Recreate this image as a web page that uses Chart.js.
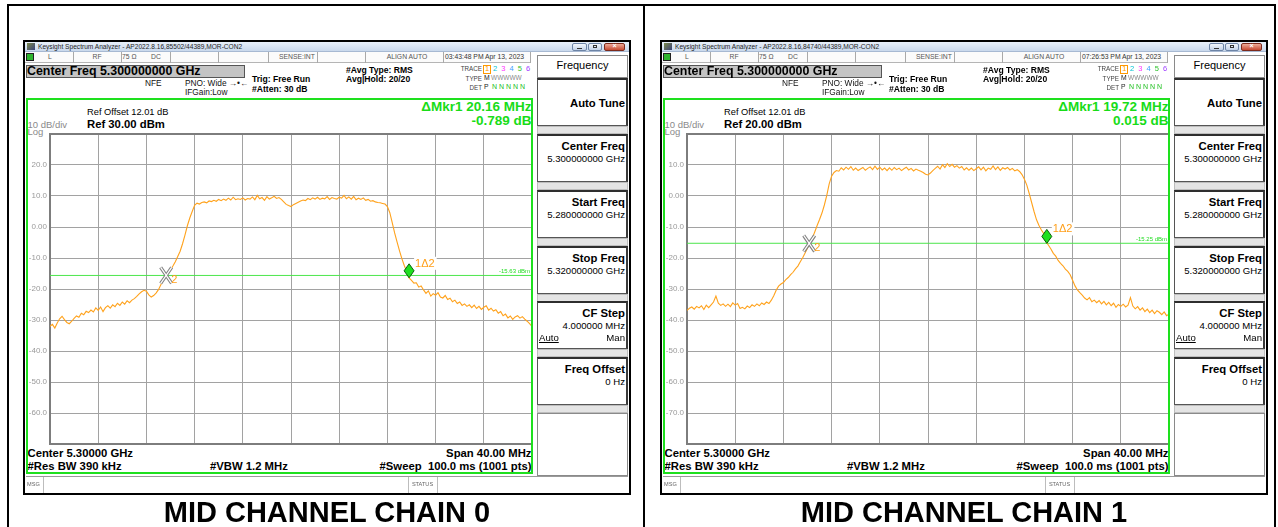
<!DOCTYPE html>
<html>
<head>
<meta charset="utf-8">
<script src="https://cdn.jsdelivr.net/npm/chart.js@4.4.0/dist/chart.umd.min.js"></script>
<style>
  html, body { margin: 0; padding: 0; background: #fff; width: 1278px; height: 527px; overflow: hidden;
    font-family: "Liberation Sans", Arial, sans-serif; }
  #page { position: absolute; left: 0; top: 0; width: 1278px; height: 527px; }
</style>
</head>
<body>
<div id="page"></div>
<script>
// Sweep grid: 5.28 GHz .. 5.32 GHz, shown as offset from 5.30 GHz centre (MHz)
const sweepStartMHz = -20;
const sweepStepMHz = 0.2;

// Trace 1 (RMS average), dBm, chain 0
const chain0Dbm = [
  -32.0,-31.4,-32.6,-31.0,-29.6,-28.8,-29.9,-30.8,-31.2,-30.4,
  -29.5,-28.7,-29.1,-27.8,-28.3,-27.2,-27.6,-26.8,-27.4,-26.1,
  -26.9,-25.8,-27.3,-26.0,-25.4,-26.2,-25.1,-25.7,-24.6,-25.3,
  -24.2,-24.9,-23.8,-24.4,-23.6,-23.1,-22.4,-21.6,-20.9,-20.4,
  -20.7,-21.9,-22.6,-22.1,-21.3,-20.2,-18.6,-17.1,-15.9,-14.8,
  -13.9,-12.6,-11.2,-9.5,-7.8,-5.4,-2.6,0.4,2.9,5.0,
  7.0,7.7,7.4,7.9,8.1,7.8,8.4,8.2,8.6,8.3,
  8.9,8.5,9.0,8.6,9.3,8.7,9.6,8.8,9.1,8.9,
  9.4,8.7,9.2,9.0,9.7,8.8,10.2,9.1,9.5,8.6,
  9.8,9.0,9.4,9.9,9.2,9.5,8.9,8.1,7.3,6.9,
  6.6,7.2,7.6,8.0,8.4,8.7,8.5,9.2,8.8,9.4,
  9.0,9.6,8.9,9.3,9.1,9.8,8.9,9.5,9.2,9.0,
  9.6,9.3,10.2,9.1,9.7,9.0,9.9,8.8,9.3,8.9,
  9.4,8.6,8.9,8.3,8.5,8.1,7.9,7.8,7.6,7.4,
  6.6,4.6,1.4,-1.9,-4.8,-7.6,-10.2,-12.4,-14.3,-16.4,
  -17.2,-18.1,-18.0,-19.4,-19.0,-20.3,-21.4,-20.6,-22.3,-21.5,
  -22.0,-21.2,-22.6,-22.9,-22.1,-23.4,-23.0,-24.1,-23.6,-24.7,
  -24.2,-25.3,-24.8,-25.6,-25.1,-26.0,-25.2,-26.3,-25.6,-26.6,
  -25.9,-25.4,-26.8,-26.2,-27.1,-26.7,-27.8,-27.3,-28.6,-28.1,
  -29.3,-28.7,-29.8,-29.0,-28.6,-29.4,-28.9,-29.7,-30.4,-31.2,
  -32.1
];

// Trace 1 (RMS average), dBm, chain 1
const chain1Dbm = [
  -36.9,-36.2,-35.8,-36.5,-35.6,-36.1,-35.4,-36.6,-35.2,-36.0,
  -35.1,-34.2,-32.3,-34.6,-35.3,-34.8,-35.6,-34.9,-35.7,-34.5,
  -35.2,-34.7,-36.3,-35.9,-36.4,-35.5,-36.0,-35.1,-35.6,-34.8,
  -35.4,-34.5,-35.0,-34.2,-34.7,-33.6,-32.2,-30.4,-29.1,-28.4,
  -27.9,-27.0,-26.3,-25.4,-24.6,-23.5,-22.6,-21.2,-19.9,-18.4,
  -16.8,-15.3,-13.6,-11.6,-9.5,-7.6,-5.5,-2.9,0.2,3.9,
  6.4,7.6,8.2,8.0,9.1,8.4,9.3,8.6,9.5,8.3,
  9.0,8.2,8.7,9.2,8.3,8.9,9.4,8.5,9.6,8.6,
  9.3,8.4,9.0,8.2,9.1,8.3,9.2,8.5,9.0,8.2,
  8.8,9.3,8.4,8.9,8.1,8.7,8.3,8.0,7.6,7.0,
  6.8,7.4,8.2,8.9,9.6,8.7,10.1,9.2,10.4,9.5,
  10.2,9.3,9.8,9.0,9.5,8.4,9.1,8.3,9.0,8.2,
  8.8,9.4,8.4,9.3,8.1,9.0,8.6,9.7,8.5,9.4,
  8.3,9.1,8.7,9.2,8.4,8.9,8.1,8.5,7.9,6.9,
  5.4,3.5,0.8,-2.1,-5.0,-7.6,-9.4,-10.9,-12.1,-14.8,
  -15.9,-17.1,-18.5,-19.4,-20.8,-21.7,-22.5,-23.6,-24.3,-25.4,
  -27.2,-29.0,-30.3,-31.2,-32.0,-32.9,-33.5,-32.8,-34.1,-33.6,
  -34.4,-33.7,-34.8,-34.0,-35.1,-34.3,-35.4,-34.6,-35.9,-35.0,
  -35.6,-34.9,-35.8,-35.2,-32.8,-35.5,-36.4,-35.7,-36.8,-36.1,
  -37.3,-36.5,-37.6,-36.8,-37.9,-37.0,-37.5,-38.3,-37.4,-38.6,
  -38.1
];

const refLevelDbm    = [30, 20];
const displayLineDbm = [-15.63, -15.25];
const mkr2FreqMHz    = [-10.36, -9.86];
const mkr2LevelDbm   = [-15.60, -15.30];
const mkr1DeltaMHz   = [20.16, 19.72];
const mkr1DeltaDb    = [-0.789, 0.015];

const windowTitles = [
  'Keysight Spectrum Analyzer - AP2022.8.16,85502/44389,MOR-CON2',
  'Keysight Spectrum Analyzer - AP2022.8.16,84740/44389,MOR-CON2'
];
const timestamps = ['03:43:48 PM Apr 13, 2023', '07:26:53 PM Apr 13, 2023'];
const captions = ['MID CHANNEL CHAIN 0', 'MID CHANNEL CHAIN 1'];
const menuKeys = [
  ['Auto Tune', ''],
  ['Center Freq', '5.300000000 GHz'],
  ['Start Freq', '5.280000000 GHz'],
  ['Stop Freq', '5.320000000 GHz'],
  ['CF Step', '4.000000 MHz'],
  ['Freq Offset', '0 Hz']
];

const FONT = '"Liberation Sans", Arial, sans-serif';
const page = document.getElementById('page');

function box(parent, x, y, w, h, css) {
  const d = document.createElement('div');
  d.style.cssText = `position:absolute;left:${x}px;top:${y}px;width:${w}px;height:${h}px;box-sizing:border-box;` + (css || '');
  parent.appendChild(d);
  return d;
}

function text(parent, x, cy, size, str, o) {
  o = o || {};
  const lh = size * 1.25;
  const w = 400;
  let left = x;
  if (o.align === 'right') left = x - w;
  else if (o.align === 'center') left = x - w / 2;
  const d = document.createElement('div');
  d.style.cssText = `position:absolute;left:${left}px;top:${cy - lh / 2}px;width:${w}px;height:${lh}px;` +
    `line-height:${lh}px;font-size:${size}px;white-space:pre;text-align:${o.align || 'left'};` +
    `font-weight:${o.bold ? 'bold' : 'normal'};color:${o.color || '#000'};font-family:${FONT};` + (o.css || '');
  d.textContent = str;
  parent.appendChild(d);
  return d;
}

// Outer table frame
box(page, 7, 4, 1269, 2, 'background:#000;');
box(page, 7, 4, 2, 523, 'background:#000;');
box(page, 643, 4, 2, 523, 'background:#000;');
box(page, 1274, 4, 2, 523, 'background:#000;');

// Marker and display-line overlay drawn with the chart's own scales
const analyzerOverlay = {
  id: 'analyzerOverlay',
  beforeDatasetsDraw(chart) {
    const { ctx, chartArea: a } = chart;
    ctx.save();
    ctx.strokeStyle = '#7d7d7d';
    ctx.lineWidth = 2;
    ctx.strokeRect(a.left, a.top, a.right - a.left, a.bottom - a.top);
    ctx.restore();
  },
  afterDatasetsDraw(chart, args, opts) {
    const i = opts.idx;
    const { ctx, chartArea: a, scales: { x, y } } = chart;
    ctx.save();

    // display line readout
    const ly = y.getPixelForValue(displayLineDbm[i]);
    ctx.font = '6px ' + FONT;
    ctx.fillStyle = '#22dd22';
    ctx.textAlign = 'right';
    ctx.textBaseline = 'bottom';
    ctx.fillText(displayLineDbm[i].toFixed(2) + ' dBm', a.right - 2, ly - 1);

    // reference marker 2 (hollow X)
    const rx = x.getPixelForValue(mkr2FreqMHz[i]);
    const ry = y.getPixelForValue(mkr2LevelDbm[i]);
    const arms = [[-5.5, -8, 5.5, 8], [5.5, -8, -5.5, 8]];
    ctx.lineCap = 'butt';
    ctx.strokeStyle = '#808080';
    ctx.lineWidth = 3.4;
    arms.forEach(s => { ctx.beginPath(); ctx.moveTo(rx + s[0], ry + s[1]); ctx.lineTo(rx + s[2], ry + s[3]); ctx.stroke(); });
    ctx.strokeStyle = '#ffffff';
    ctx.lineWidth = 1.2;
    arms.forEach(s => { ctx.beginPath(); ctx.moveTo(rx + s[0], ry + s[1]); ctx.lineTo(rx + s[2], ry + s[3]); ctx.stroke(); });
    ctx.font = '11px ' + FONT;
    ctx.fillStyle = '#ff9f1a';
    ctx.textAlign = 'left';
    ctx.textBaseline = 'middle';
    ctx.fillText('2', rx + 5, ry + 5);

    // delta marker 1 (diamond, tip on the marker level)
    const mx = x.getPixelForValue(mkr2FreqMHz[i] + mkr1DeltaMHz[i]);
    const my = y.getPixelForValue(mkr2LevelDbm[i] + mkr1DeltaDb[i]);
    ctx.beginPath();
    ctx.moveTo(mx, my);
    ctx.lineTo(mx + 5, my - 7);
    ctx.lineTo(mx, my - 14);
    ctx.lineTo(mx - 5, my - 7);
    ctx.closePath();
    ctx.fillStyle = '#1fe01f';
    ctx.fill();
    ctx.strokeStyle = '#0b5e0b';
    ctx.lineWidth = 1;
    ctx.stroke();
    ctx.font = '11px ' + FONT;
    const lbl = '1\u03942';
    const tw = ctx.measureText(lbl).width;
    ctx.fillStyle = '#ffffff';
    ctx.fillRect(mx + 5, my - 21, tw + 3, 13);
    ctx.fillStyle = '#ff9f1a';
    ctx.fillText(lbl, mx + 6, my - 14);
    ctx.restore();
  }
};

function buildPanel(i, ox) {
  const p = box(page, ox, 40, 608, 455, 'background:#fff;');

  // title bar
  box(p, 2, 2, 604, 10, 'background:linear-gradient(#e8f0fa,#c9d8ec);border-bottom:1px solid #a7b9d2;');
  box(p, 4, 3, 8, 7, 'background:linear-gradient(135deg,#7c8a4a,#39407a);');
  text(p, 15, 7, 6.6, windowTitles[i], { color: '#1e1e1e' });
  box(p, 549, 3, 15, 8, 'background:linear-gradient(#f2f6fc,#c3d2e8);border:1px solid #6d84a6;border-radius:2px;');
  box(p, 565, 3, 14, 8, 'background:linear-gradient(#f2f6fc,#c3d2e8);border:1px solid #6d84a6;border-radius:2px;');
  box(p, 581, 3, 21, 8, 'background:linear-gradient(#eeaa98,#c64a33);border:1px solid #7c2a1c;border-radius:2px;');
  box(p, 554, 8, 5, 1, 'background:#333;');
  box(p, 570, 5, 4, 3, 'border:1px solid #333;');
  text(p, 591.5, 6.5, 7, '\u00d7', { align: 'center', color: '#fff', bold: true });

  // status row
  box(p, 2, 12, 505, 11, 'background:#fbfbfb;border-bottom:1px solid #b5b5b5;');
  [50, 98, 147, 195, 245, 294, 342, 420, 507].forEach(sx => box(p, sx, 12, 1, 11, 'background:#a9a9a9;'));
  box(p, 3, 13, 8, 8, 'background:#222;');
  box(p, 4, 14, 6, 6, 'background:#2fb52f;');
  text(p, 27, 17.5, 6.8, 'L', { align: 'center', color: '#555' });
  text(p, 74, 17.5, 6.8, 'RF', { align: 'center', color: '#555' });
  text(p, 99, 17.5, 6.8, '75 \u03a9', { color: '#555' });
  text(p, 133, 17.5, 6.8, 'DC', { align: 'center', color: '#555' });
  text(p, 274, 17.5, 6.8, 'SENSE:INT', { align: 'center', color: '#555' });
  text(p, 384, 17.5, 6.8, 'ALIGN AUTO', { align: 'center', color: '#555' });
  text(p, 422, 17.5, 6.8, timestamps[i], { color: '#333' });

  // settings header
  box(p, 3, 25, 219, 13, 'background:#c4c4c4;border:1px solid #555;');
  text(p, 4, 31.5, 12.4, 'Center Freq 5.300000000 GHz', { bold: true });
  text(p, 122, 42.7, 8.3, 'NFE', { color: '#111' });
  text(p, 162, 42.7, 8.3, 'PNO: Wide \u2192\u2022\u2190', { color: '#111' });
  text(p, 162, 51.7, 8.3, 'IFGain:Low', { color: '#111' });
  text(p, 229, 39.7, 8.6, 'Trig: Free Run', { bold: true });
  text(p, 229, 49.3, 8.6, '#Atten: 30 dB', { bold: true });
  text(p, 323, 30, 8.6, '#Avg Type: RMS', { bold: true });
  text(p, 323, 39, 8.6, 'Avg|Hold: 20/20', { bold: true });

  // trace / type / detector block
  text(p, 459, 29, 6.3, 'TRACE', { align: 'right', color: '#444' });
  text(p, 459, 38.5, 6.3, 'TYPE', { align: 'right', color: '#444' });
  text(p, 459, 47.5, 6.3, 'DET', { align: 'right', color: '#444' });
  box(p, 460, 25, 8, 9, 'border:1px solid #ff9900;');
  const traceColors = ['#ff9900', '#00c4d4', '#ff33ff', '#3aa0ff', '#2ec22e', '#a040ff'];
  traceColors.forEach((c, k) => text(p, 464 + k * 8.2, 29, 7.5, String(k + 1), { align: 'center', color: c }));
  text(p, 461, 38.5, 6.8, 'M', { color: '#222' });
  text(p, 468, 38.5, 6.5, 'WWWWW', { color: '#8a8a8a' });
  text(p, 461, 47.5, 6.8, 'P', { color: '#222' });
  text(p, 469, 47.5, 7, 'N N N N N', { color: '#20c020' });

  // plot region texts
  text(p, 64, 73, 9.3, 'Ref Offset 12.01 dB');
  text(p, 64, 84.3, 11.3, 'Ref ' + refLevelDbm[i].toFixed(2) + ' dBm', { bold: true });
  text(p, 4.5, 84.5, 9.5, '10 dB/div', { color: '#8a8a8a' });
  text(p, 4.5, 92, 9.5, 'Log', { color: '#8a8a8a' });
  text(p, 508.5, 67.8, 13.5, '\u0394Mkr1 ' + mkr1DeltaMHz[i].toFixed(2) + ' MHz', { align: 'right', bold: true, color: '#18dc18' });
  text(p, 508.5, 81, 13.5, mkr1DeltaDb[i].toFixed(3) + ' dB', { align: 'right', bold: true, color: '#18dc18' });

  text(p, 4.5, 413, 11.3, 'Center 5.30000 GHz', { bold: true });
  text(p, 508.5, 413, 11.3, 'Span 40.00 MHz', { bold: true, align: 'right' });
  text(p, 4.5, 425.7, 11.3, '#Res BW 390 kHz', { bold: true });
  text(p, 187, 425.7, 11.3, '#VBW 1.2 MHz', { bold: true });
  text(p, 508.5, 425.7, 11.3, '#Sweep  100.0 ms (1001 pts)', { bold: true, align: 'right' });

  // graticule chart
  const cv = document.createElement('canvas');
  cv.width = 505; cv.height = 316;
  cv.style.cssText = 'position:absolute;left:6px;top:90px;width:505px;height:316px;';
  p.appendChild(cv);

  const trace = i === 0 ? chain0Dbm : chain1Dbm;
  const ref = refLevelDbm[i];
  new Chart(cv, {
    type: 'line',
    data: {
      datasets: [
        {
          data: trace.map((v, k) => ({ x: sweepStartMHz + k * sweepStepMHz, y: v })),
          borderColor: '#ffa21c', borderWidth: 1.1, pointRadius: 0, tension: 0
        },
        {
          data: [{ x: -20, y: displayLineDbm[i] }, { x: 20, y: displayLineDbm[i] }],
          borderColor: '#4ce64c', borderWidth: 1, pointRadius: 0
        }
      ]
    },
    options: {
      responsive: false, animation: false, devicePixelRatio: 1,
      layout: { padding: { top: 4, right: 2, bottom: 2, left: 0 } },
      plugins: { legend: { display: false }, tooltip: { enabled: false }, analyzerOverlay: { idx: i } },
      scales: {
        x: {
          type: 'linear', min: -20, max: 20,
          ticks: { stepSize: 4, display: false },
          grid: { color: '#a2a2a2', lineWidth: 1, drawTicks: false },
          border: { display: false },
          afterFit: s => { s.height = 0; s.paddingLeft = 0; s.paddingRight = 0; }
        },
        y: {
          type: 'linear', min: ref - 100, max: ref,
          ticks: {
            stepSize: 10, padding: 3, color: '#9a9a9a',
            font: { size: 8, family: FONT },
            callback: v => (v === ref || v === ref - 100) ? '' : (v === 0 ? '0.00' : v.toFixed(1))
          },
          grid: { color: '#a2a2a2', lineWidth: 1, drawTicks: false },
          border: { display: false },
          afterFit: s => { s.width = 21; s.paddingTop = 0; s.paddingBottom = 0; }
        }
      }
    },
    plugins: [analyzerOverlay]
  });

  // green measurement frame
  box(p, 3, 58, 507, 376, 'border:2px solid #1ee01e;');

  // softkey menu
  box(p, 514, 15, 91, 421, 'background:#f2f2f2;border-left:1px solid #8a8a8a;');
  box(p, 514, 15, 91, 23, 'background:#fff;border:1px solid #8a8a8a;');
  text(p, 559.5, 26, 11, 'Frequency', { align: 'center' });
  const tops = [38, 94, 150, 206, 261, 317];
  tops.forEach((t, k) => {
    box(p, 514, t + 48, 91, 8, 'background:#e4e4e4;border:1px solid #bdbdbd;');
    box(p, 514, t, 91, 48, 'background:#fff;border:1px solid #555;border-top:2px solid #2e2e2e;border-right:2px solid #3a3a3a;');
    const [title, val] = menuKeys[k];
    if (!val) {
      text(p, 602, t + 25, 11.3, title, { bold: true, align: 'right' });
    } else {
      text(p, 602, t + 12.5, 11.3, title, { bold: true, align: 'right' });
      text(p, 602, t + 25, 9.6, val, { align: 'right' });
    }
    if (title === 'CF Step') {
      text(p, 516, t + 37, 9.6, 'Auto', { css: 'text-decoration:underline;' });
      text(p, 602, t + 37, 9.6, 'Man', { align: 'right' });
    }
  });
  box(p, 514, 373, 91, 63, 'background:#fff;border:1px solid #8a8a8a;');

  // message / status line
  box(p, 3, 436, 602, 17, 'background:#fff;border-top:1px solid #9a9a9a;');
  [20, 385, 414].forEach(sx => box(p, sx, 437, 1, 16, 'background:#bdbdbd;'));
  text(p, 4, 444.5, 5.6, 'MSG', { color: '#666' });
  text(p, 399.5, 444.5, 5.6, 'STATUS', { align: 'center', color: '#666' });

  // window border
  box(p, 0, 0, 608, 455, 'border:2px solid #000;');

  // caption
  text(page, ox + 304, 512.5, 29, captions[i], { bold: true, align: 'center' });
}

buildPanel(0, 23);
buildPanel(1, 660);
</script>
</body>
</html>
